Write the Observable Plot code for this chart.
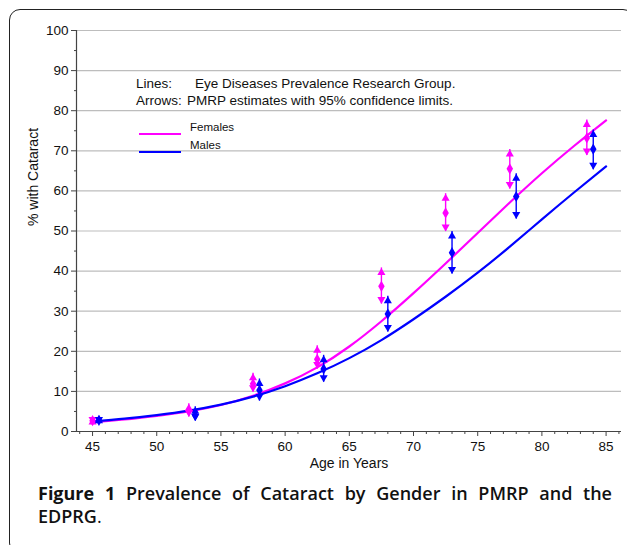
<!DOCTYPE html>
<html>
<head>
<meta charset="utf-8">
<script src="https://cdn.jsdelivr.net/npm/d3@7"></script>
<script src="https://cdn.jsdelivr.net/npm/@observablehq/plot@0.6"></script>
<style>
  html, body { margin: 0; padding: 0; background: #fff; }
  body { width: 627px; height: 545px; position: relative; overflow: hidden; font-family: "Liberation Sans", Arial, sans-serif; }
  #frame { position: absolute; left: 9px; top: 9px; width: 625px; height: 545px; border: 1.5px solid #222; border-radius: 11px; box-sizing: border-box; }
  #chart { position: absolute; left: 0; top: 0; }
  #legend { position: absolute; left: 0; top: 0; width: 627px; height: 200px; pointer-events: none; font-family: "Liberation Sans", Arial, sans-serif; color: #111; }
  #legend div { position: absolute; white-space: nowrap; }
  .sw { height: 0; width: 42px; }
  .cap { position: absolute; left: 38px; width: 574px; font-family: "Open Sans", "Noto Sans", sans-serif; font-size: 18px; line-height: 23px; color: #111; font-weight: 600; white-space: nowrap; }
  #cap1 { top: 482px; text-align: justify; text-align-last: justify; }
  #cap2 { top: 505px; text-align: left; }
  .cap b { font-weight: 700; }
</style>
</head>
<body>
<div id="frame"></div>
<div id="chart"></div>
<div id="legend">
  <div style="left:136px; top:76px; font-size:13.5px;">Lines:</div>
  <div style="left:195px; top:76px; font-size:13.5px;">Eye Diseases Prevalence Research Group.</div>
  <div style="left:136px; top:93px; font-size:13.5px;">Arrows:</div>
  <div style="left:187px; top:93px; font-size:13.5px;">PMRP estimates with 95% confidence limits.</div>
  <div class="sw" style="left:139px; top:133px; border-top:2px solid #ff00ff;"></div>
  <div style="left:190px; top:121px; font-size:11.5px;">Females</div>
  <div class="sw" style="left:139px; top:151px; border-top:2px solid #0000ff;"></div>
  <div style="left:190px; top:139px; font-size:11.5px;">Males</div>
</div>
<div class="cap" id="cap1" style="white-space: normal;"><b>Figure 1</b> Prevalence of Cataract by Gender in PMRP and the</div>
<div class="cap" id="cap2">EDPRG<span style="font-weight:400">.</span></div>
<script>
// EDPRG curves
const curveAges   = [45, 47.5, 50, 52.5, 55, 57.5, 60, 62.5, 65, 67.5, 70, 72.5, 75, 77.5, 80, 82.5, 85];
const femaleCurve = [2.3, 3.0, 3.9, 5.0, 6.6, 8.9, 12.0, 16.0, 21.2, 27.5, 34.5, 41.9, 49.5, 57.1, 64.4, 71.2, 77.6];
const maleCurve   = [2.5, 3.2, 4.1, 5.2, 6.7, 8.7, 11.3, 14.5, 18.3, 22.8, 28.0, 33.6, 39.6, 46.1, 52.9, 59.6, 66.1];

// PMRP estimates with 95% CI
const femaleAge  = [45, 52.5, 57.5, 62.5, 67.5, 72.5, 77.5, 83.5];
const femaleEst  = [2.7, 5.2, 11.9, 18.0, 36.2, 54.5, 65.5, 73.2];
const femaleLow  = [1.9, 3.6, 9.8, 15.6, 31.8, 49.9, 60.5, 68.8];
const femaleHigh = [3.5, 6.9, 14.5, 21.4, 40.8, 59.3, 70.3, 77.7];

const maleAge  = [45.5, 53, 58, 63, 68, 73, 78, 84];
const maleEst  = [2.8, 4.0, 10.3, 15.6, 29.3, 44.6, 58.6, 70.4];
const maleLow  = [1.9, 2.6, 7.6, 12.3, 24.8, 39.3, 53.0, 65.3];
const maleHigh = [3.8, 6.2, 13.1, 19.0, 33.7, 49.9, 64.3, 75.2];

const xTicks = [45, 50, 55, 60, 65, 70, 75, 80, 85];
const xMinor = d3.range(44, 87, 1).filter(v => v % 5 !== 0);
const yTicks = [0, 10, 20, 30, 40, 50, 60, 70, 80, 90, 100];
const yMinor = [5, 15, 25, 35, 45, 55, 65, 75, 85, 95];
const xDomain = [43.75, 86.2];
const yDomain = [0, 100];
const xLabel = "Age in Years";
const yLabel = "% with Cataract";

const FEM = "#ff00ff", MAL = "#0000ff";

const curves = [
  ...curveAges.map((a, i) => ({age: a, v: femaleCurve[i], g: "F"})),
  ...curveAges.map((a, i) => ({age: a, v: maleCurve[i], g: "M"}))
];
const pts = [
  ...femaleAge.map((a, i) => ({age: a, est: femaleEst[i], lo: femaleLow[i], hi: femaleHigh[i], c: FEM})),
  ...maleAge.map((a, i) => ({age: a, est: maleEst[i], lo: maleLow[i], hi: maleHigh[i], c: MAL}))
];

const headR = 3.0;
const tipOff = 2 * Math.sqrt(Math.PI * headR * headR / (Math.sqrt(3) * 3));

const chart = Plot.plot({
  width: 627,
  height: 480,
  marginLeft: 76,
  marginRight: 6,
  marginTop: 30,
  marginBottom: 49,
  style: {fontFamily: "'Liberation Sans', Arial, sans-serif", fontSize: "13.5px", color: "#111", background: "transparent"},
  x: {domain: xDomain},
  y: {domain: yDomain},
  marks: [
    Plot.gridY(yTicks.filter(d => d > 0), {stroke: "#bdbdbd", strokeOpacity: 1, strokeWidth: 1.2}),
    Plot.axisY(yTicks, {tickSize: 5, tickPadding: 3, stroke: "#444", label: null, fontSize: 13.5}),
    Plot.axisY(yMinor, {tickSize: 2, stroke: "#444", fill: "none", label: null}),
    Plot.axisX(xTicks, {tickSize: 5, tickPadding: 5, stroke: "#444", label: null, fontSize: 13.5}),
    Plot.axisX(xMinor, {tickSize: 3, stroke: "#444", fill: "none", label: null}),
    Plot.text([xLabel], {frameAnchor: "bottom", dy: 36, fontSize: 14, fill: "#111"}),
    Plot.text([yLabel], {frameAnchor: "left", dx: -43, dy: -5, rotate: -90, fontSize: 14, fill: "#111"}),
    Plot.ruleY([yDomain[0]], {stroke: "#444", strokeWidth: 1.2}),
    Plot.ruleX([xDomain[0]], {stroke: "#444", strokeWidth: 1.2}),
    Plot.line(curves, {x: "age", y: "v", z: "g", stroke: d => d.g === "F" ? FEM : MAL, strokeWidth: 2.2, curve: "natural"}),
    Plot.ruleX(pts, {x: "age", y1: "lo", y2: "hi", stroke: "c", strokeWidth: 1.4}),
    Plot.dot(pts, {x: "age", y: "hi", symbol: "triangle", r: headR, fill: "c", dy: tipOff}),
    Plot.dot(pts, {x: "age", y: "lo", symbol: "triangle", r: headR, fill: "c", rotate: 180, dy: -tipOff}),
    Plot.dot(pts, {x: "age", y: "est", symbol: "diamond", r: 3.4, fill: "c"})
  ]
});
document.getElementById("chart").appendChild(chart);
</script>
</body>
</html>
